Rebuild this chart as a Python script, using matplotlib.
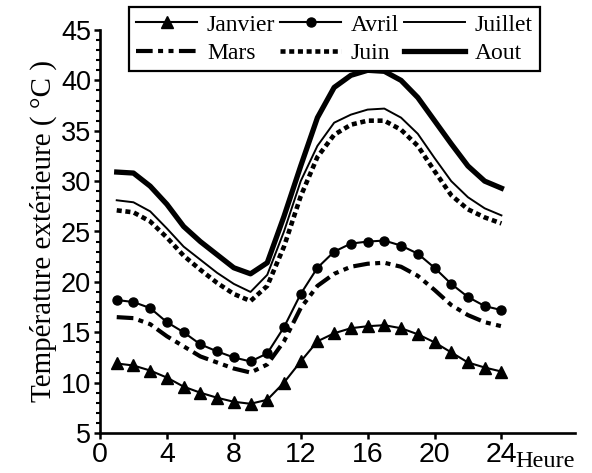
import matplotlib
matplotlib.use("Agg")
import matplotlib.pyplot as plt
from matplotlib.ticker import MultipleLocator

hours = list(range(1, 25))
janvier = [11.9, 11.7, 11.2, 10.5, 9.6, 9.0, 8.5, 8.1, 7.9, 8.3, 10.0, 12.1, 14.1, 14.9, 15.4, 15.6, 15.7, 15.4, 14.8, 14.0, 13.0, 12.0, 11.5, 11.1]
avril = [18.2, 18.0, 17.4, 16.0, 15.0, 13.8, 13.1, 12.5, 12.1, 12.9, 15.5, 18.8, 21.4, 23.0, 23.8, 24.0, 24.1, 23.6, 22.8, 21.4, 19.8, 18.5, 17.6, 17.2]
mars = [16.5, 16.4, 15.8, 14.6, 13.6, 12.6, 12.0, 11.4, 11.0, 11.8, 14.1, 17.4, 19.6, 20.8, 21.5, 21.8, 21.9, 21.5, 20.6, 19.2, 17.7, 16.7, 16.0, 15.6]
juin = [27.1, 26.9, 26.0, 24.4, 22.6, 21.2, 19.9, 18.8, 18.1, 19.6, 23.5, 28.5, 32.4, 34.6, 35.6, 36.0, 36.0, 35.1, 33.5, 31.0, 28.6, 27.2, 26.4, 25.8]
juillet = [28.1, 27.9, 27.0, 25.3, 23.5, 22.2, 20.9, 19.8, 19.0, 20.7, 25.0, 30.0, 33.5, 35.8, 36.6, 37.1, 37.2, 36.3, 34.7, 32.3, 30.0, 28.4, 27.3, 26.6]
aout = [30.9, 30.8, 29.5, 27.7, 25.5, 24.0, 22.7, 21.4, 20.8, 21.9, 26.5, 31.5, 36.3, 39.3, 40.5, 41.0, 40.9, 40.0, 38.3, 36.0, 33.7, 31.5, 30.0, 29.3]
xticks = [0, 4, 8, 12, 16, 20, 24]
yticks = [5, 10, 15, 20, 25, 30, 35, 40, 45]

fig = plt.figure(figsize=(5.92, 4.73), dpi=100)
ax = fig.add_axes([100/592, 40/473, 475/592, 403/473])

k = 'black'
l_jan, = ax.plot(hours, janvier, color=k, lw=1.5, marker='^', ms=9, label='Janvier')
l_mar, = ax.plot(hours, mars, color=k, lw=3.0, dashes=(4, 1.3, 1.2, 1.3, 1.2, 1.3), label='Mars')
l_avr, = ax.plot(hours, avril, color=k, lw=1.5, marker='o', ms=6.5, label='Avril')
l_jun, = ax.plot(hours, juin, color=k, lw=3.3, dashes=(1.1, 0.8), label='Juin')
l_jul, = ax.plot(hours, juillet, color=k, lw=1.4, label='Juillet')
l_aou, = ax.plot(hours, aout, color=k, lw=3.8, label='Aout')

ax.set_xlim(0, 28.4)
ax.set_ylim(5, 45)
ax.set_xticks(xticks)
ax.set_yticks(yticks)
ax.yaxis.set_minor_locator(MultipleLocator(1))
for s in ['top', 'right']:
    ax.spines[s].set_visible(False)
for s in ['left', 'bottom']:
    ax.spines[s].set_linewidth(1.9)
ax.tick_params(axis='both', which='major', direction='out', length=4.5, width=1.8, pad=2)
ax.tick_params(axis='x', labelsize=20.5)
ax.tick_params(axis='y', labelsize=19.5)
ax.tick_params(axis='y', which='minor', direction='out', length=3, width=1.5)
for t in ax.get_xticklabels() + ax.get_yticklabels():
    t.set_fontfamily('Liberation Sans')

ax.set_ylabel('Température extérieure ( °C )', fontfamily='Liberation Serif', fontsize=21, labelpad=3)
fig.text(515/592, (473-467)/473, 'Heure', fontfamily='Liberation Serif', fontsize=17.5,
         ha='left', va='baseline')

leg = ax.legend(handles=[l_jan, l_mar, l_avr, l_jun, l_jul, l_aou], ncol=3,
                loc='upper left', bbox_to_anchor=(0.061, 0.908, 0.865, 0.149),
                mode='expand', frameon=True, fancybox=False, framealpha=1,
                prop={'family': 'Liberation Serif', 'size': 17},
                handlelength=2.6, handletextpad=0.4, borderpad=0.3,
                labelspacing=0.3, columnspacing=0.5, borderaxespad=0)
leg.get_frame().set_edgecolor('black')
leg.get_frame().set_linewidth(1.6)

fig.savefig('out.png', dpi=100)
